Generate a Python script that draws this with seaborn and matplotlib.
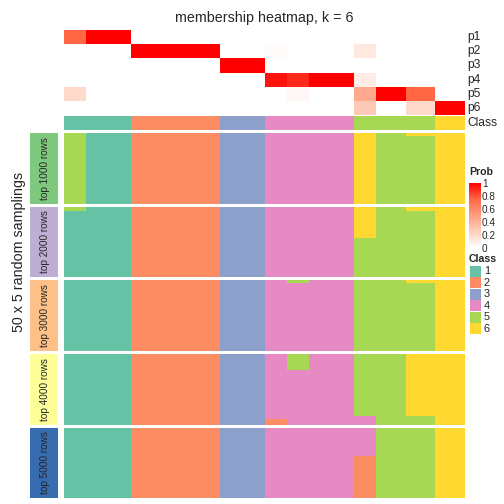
import numpy as np
import pandas as pd
import matplotlib
matplotlib.use("Agg")
import matplotlib.pyplot as plt
import seaborn as sns
from matplotlib.colors import ListedColormap, LinearSegmentedColormap
from matplotlib.patches import Rectangle
from matplotlib.cm import ScalarMappable
from matplotlib.colors import Normalize

# ---------------- data ----------------
# samples are grouped in blocks of equal membership
block_sizes = [3, 6, 12, 6, 3, 3, 6, 3, 4, 4, 4]

p1 = [0.75, 1, 0, 0, 0, 0, 0, 0, 0, 0, 0]
p2 = [0, 0, 1, 0, 0.02, 0, 0, 0.12, 0, 0, 0]
p3 = [0, 0, 0, 1, 0, 0, 0, 0, 0, 0, 0]
p4 = [0, 0, 0, 0, 0.95, 0.9, 1, 0.1, 0, 0, 0]
p5 = [0.2, 0, 0, 0, 0, 0.04, 0, 0.45, 1, 0.75, 0]
p6 = [0, 0, 0, 0, 0, 0, 0, 0.28, 0, 0.2, 1]
prob_labels = ["p1", "p2", "p3", "p4", "p5", "p6"]

class_call = [1, 1, 2, 3, 4, 4, 4, 5, 5, 5, 6]

# class of each of the 50 samplings, as (class, count) runs per block
top1000 = [[(5, 50)], [(1, 50)], [(2, 50)], [(3, 50)], [(4, 50)], [(4, 50)],
           [(4, 50)], [(6, 50)], [(5, 50)], [(6, 2), (5, 48)], [(6, 50)]]
top2000 = [[(5, 3), (1, 47)], [(1, 50)], [(2, 50)], [(3, 50)], [(4, 50)], [(4, 50)],
           [(4, 50)], [(6, 22), (5, 28)], [(5, 50)], [(6, 3), (5, 47)], [(6, 50)]]
top3000 = [[(1, 50)], [(1, 50)], [(2, 50)], [(3, 50)], [(4, 50)], [(5, 2), (4, 48)],
           [(4, 50)], [(5, 50)], [(5, 50)], [(6, 2), (5, 48)], [(6, 50)]]
top4000 = [[(1, 50)], [(1, 50)], [(2, 50)], [(3, 50)], [(4, 46), (2, 4)], [(5, 11), (4, 39)],
           [(4, 50)], [(5, 44), (4, 6)], [(5, 50)], [(6, 44), (5, 6)], [(6, 50)]]
top5000 = [[(1, 50)], [(1, 50)], [(2, 50)], [(3, 50)], [(4, 50)], [(4, 50)],
           [(4, 50)], [(4, 20), (2, 30)], [(5, 50)], [(5, 50)], [(6, 50)]]

group_runs = [top1000, top2000, top3000, top4000, top5000]
group_names = ["top 1000 rows", "top 2000 rows", "top 3000 rows", "top 4000 rows", "top 5000 rows"]
group_colors = ["#7FC97F", "#BEAED4", "#FDC086", "#FFFF99", "#386CB0"]

class_labels = ["1", "2", "3", "4", "5", "6"]
class_colors = ["#66C2A5", "#FC8D62", "#8DA0CB", "#E78AC3", "#A6D854", "#FFD92F"]

# ---------------- helpers ----------------
def expand(vals):
    return np.repeat(vals, block_sizes)


def group_matrix(runs):
    cols = []
    for block, n in zip(runs, block_sizes):
        col = np.concatenate([[c] * k for c, k in block])
        cols += [col] * n
    return np.column_stack(cols)


prob = pd.DataFrame(np.vstack([expand(p) for p in [p1, p2, p3, p4, p5, p6]]), index=prob_labels)
class_row = expand(class_call).reshape(1, -1)

sns.set_style("white")
plt.rcParams["font.family"] = ["Liberation Sans", "DejaVu Sans"]

W = H = 504
fig = plt.figure(figsize=(7, 7), dpi=72)


def px_axes(x0, y0, x1, y1):
    return fig.add_axes([x0 / W, 1 - y1 / H, (x1 - x0) / W, (y1 - y0) / H])


prob_cmap = LinearSegmentedColormap.from_list(
    "prob", ["#FFFFFF", "#FFCFBE", "#FF9E81", "#FF6846", "#FF0000"])
class_cmap = ListedColormap(class_colors)

X0, X1 = 64, 465

# probability heatmap
ax = px_axes(X0, 30, X1, 115)
sns.heatmap(prob, ax=ax, cmap=prob_cmap, vmin=0, vmax=1, cbar=False,
            xticklabels=False, yticklabels=False)
ax.set_xlabel("")
ax.set_ylabel("")

# class row
ax = px_axes(X0, 116, X1, 130)
sns.heatmap(class_row, ax=ax, cmap=class_cmap, vmin=0.5, vmax=6.5, cbar=False,
            xticklabels=False, yticklabels=False)

# sampling groups
group_y = [(133, 204), (207, 277), (280, 351), (354, 425), (428, 498)]
for runs, (y0, y1), name, col in zip(group_runs, group_y, group_names, group_colors):
    ax = px_axes(X0, y0, X1, y1)
    sns.heatmap(group_matrix(runs), ax=ax, cmap=class_cmap, vmin=0.5, vmax=6.5,
                cbar=False, xticklabels=False, yticklabels=False)
    sax = px_axes(30, y0, 58, y1)
    sax.set_facecolor(col)
    sax.set_xticks([])
    sax.set_yticks([])
    for s in sax.spines.values():
        s.set_visible(False)
    sax.text(0.52, 0.5, name, rotation=90, ha="center", va="center",
             fontsize=10, transform=sax.transAxes)

# overlay for texts and legends in pixel units
ov = fig.add_axes([0, 0, 1, 1], zorder=10)
ov.set_xlim(0, W)
ov.set_ylim(H, 0)
ov.axis("off")

ov.text((X0 + X1) / 2, 18, "membership heatmap, k = 6", ha="center", va="center", fontsize=14.3)
for i, lab in enumerate(prob_labels):
    ov.text(467, 37 + i * 14.2, lab, ha="left", va="center", fontsize=12)
ov.text(467, 123, "Class", ha="left", va="center", fontsize=12)
ov.text(19, 252, "50 x 5 random samplings", rotation=90, ha="center", va="center", fontsize=14.3)

# Prob colour bar
cax = px_axes(469, 183, 481, 248)
cb = fig.colorbar(ScalarMappable(norm=Normalize(0, 1), cmap=prob_cmap), cax=cax)
cb.outline.set_visible(False)
cb.set_ticks([0, 0.2, 0.4, 0.6, 0.8, 1])
cb.set_ticklabels(["0", "0.2", "0.4", "0.6", "0.8", "1"])
cax.tick_params(direction="in", color="white", length=3, width=0.8,
                labelsize=10, pad=1)
ov.text(469, 172, "Prob", ha="left", va="center", fontsize=10.5, fontweight="bold")

# Class legend
ov.text(469, 259, "Class", ha="left", va="center", fontsize=10.5, fontweight="bold")
for i, (lab, c) in enumerate(zip(class_labels, class_colors)):
    y = 266 + i * 11.4
    ov.add_patch(Rectangle((470, y), 11, 11, facecolor=c, edgecolor="none"))
    ov.text(484, y + 5.5, lab, ha="left", va="center", fontsize=11)

fig.savefig("out.png", dpi=72)
